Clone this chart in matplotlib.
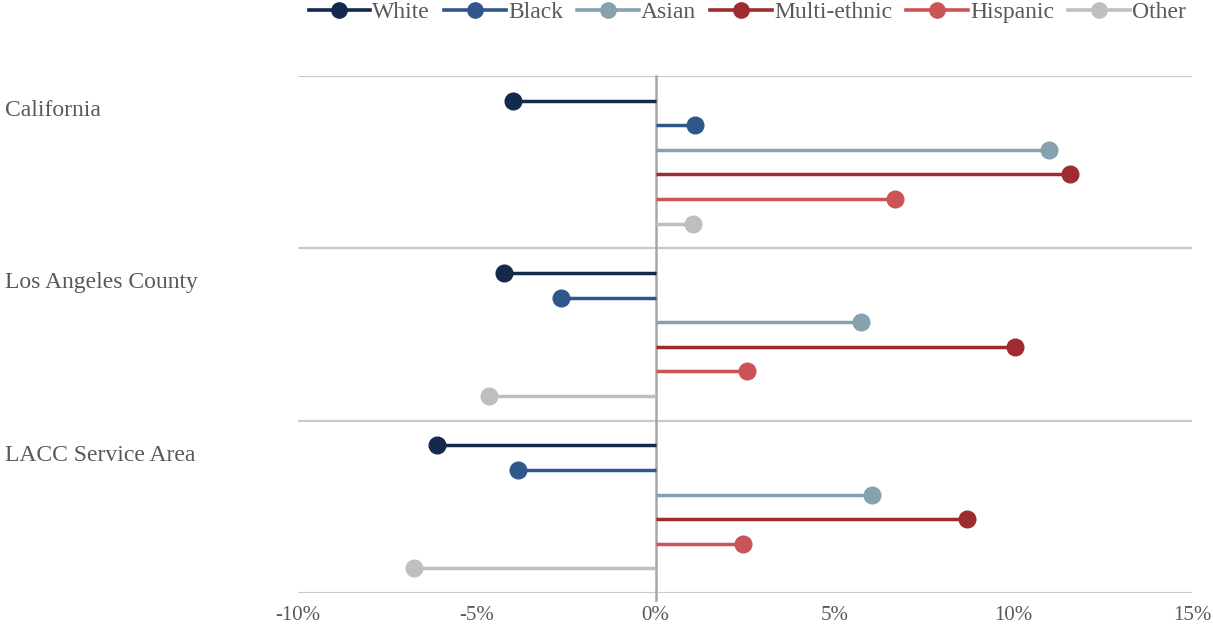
import matplotlib
matplotlib.use("Agg")
import matplotlib.pyplot as plt
from matplotlib.lines import Line2D
from matplotlib.ticker import FuncFormatter

plt.rcParams['font.family'] = ['Liberation Serif', 'DejaVu Serif']

regions = ["California", "Los Angeles County", "LACC Service Area"]
groups = ["White", "Black", "Asian", "Multi-ethnic", "Hispanic", "Other"]
colors = ["#132a4c", "#30578b", "#86a2ae", "#9e2b30", "#cb5456", "#bfbfbf"]

# Percent change by region (rows) and group (columns)
california = [-4.0, 1.1, 11.0, 11.6, 6.7, 1.05]
la_county = [-4.25, -2.65, 5.75, 10.05, 2.55, -4.65]
lacc_area = [-6.1, -3.85, 6.05, 8.7, 2.45, -6.75]
values = [california, la_county, lacc_area]

xticks = [-10, -5, 0, 5, 10, 15]

fig = plt.figure(figsize=(12.13, 6.27), dpi=100)
ax = fig.add_axes([298 / 1213, 1 - 593 / 627, (1192 - 298) / 1213, (593 - 76) / 627])

slots = len(groups) + 1
text_col = "#595959"

for r, (name, vals) in enumerate(zip(regions, values)):
    for i, (v, c) in enumerate(zip(vals, colors)):
        y = r * slots + 1 + i
        ax.plot([0, v], [y, y], color=c, lw=2.5, solid_capstyle='butt', zorder=3)
        ax.plot([v], [y], 'o', color=c, ms=12, zorder=4)
    ax.text(-0.328, r * slots + 1.4, name, transform=ax.get_yaxis_transform(),
            ha='left', va='center', fontsize=17, color=text_col)

for k in range(len(regions) + 1):
    ax.axhline(k * slots, color="#c9c9c9", lw=1.6, zorder=1)

ax.plot([0, 0], [0, len(regions) * slots + 0.3], color="#a6a6a6", lw=1.8,
        zorder=2, clip_on=False)

ax.set_xlim(-10, 15)
ax.set_ylim(len(regions) * slots, 0)
ax.set_xticks(xticks)
ax.xaxis.set_major_formatter(FuncFormatter(lambda v, p: f"{v:.0f}%"))
ax.tick_params(axis='x', length=0, pad=9, labelsize=15, labelcolor=text_col)
ax.set_yticks([])
for s in ax.spines.values():
    s.set_visible(False)

handles = [Line2D([0], [0], color=c, lw=2.6, marker='o', ms=11) for c in colors]
leg = fig.legend(handles, groups, loc='center', bbox_to_anchor=(0.616, 1 - 12 / 627),
                 ncol=6, frameon=False, fontsize=17, handlelength=2.6,
                 handletextpad=0.1, columnspacing=0.6, borderaxespad=0)
for t in leg.get_texts():
    t.set_color(text_col)

fig.savefig("out.png", dpi=100)
